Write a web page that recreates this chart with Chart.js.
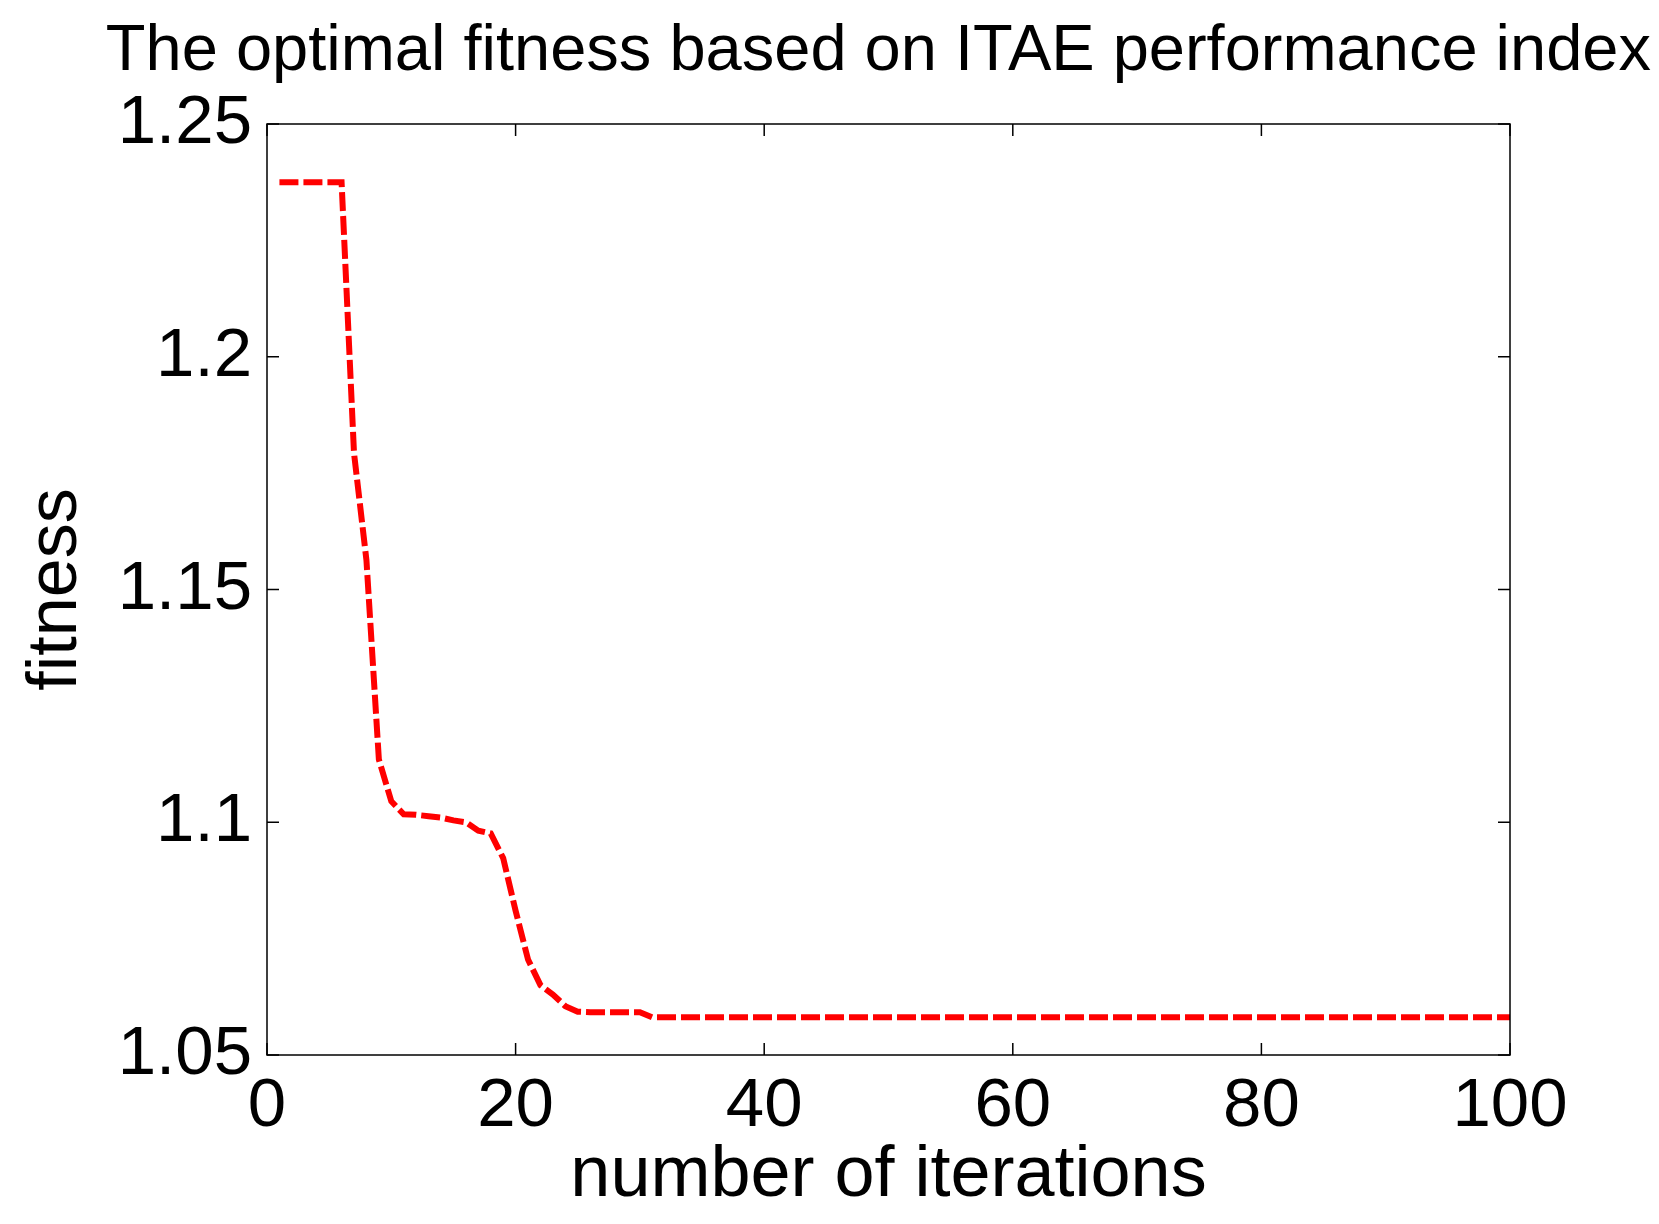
<!DOCTYPE html>
<html>
<head>
<meta charset="utf-8">
<title>The optimal fitness based on ITAE performance index</title>
<script src="https://cdn.jsdelivr.net/npm/chart.js@4"></script>
<style>
  html, body { margin: 0; padding: 0; background: #fff; }
  #chart { display: block; }
</style>
</head>
<body>
<canvas id="chart" width="1659" height="1224"></canvas>
<script>
// data
const iterations = [
  1, 2, 3, 4, 5, 6, 7, 8, 9, 10,
  11, 12, 13, 14, 15, 16, 17, 18, 19, 20,
  21, 22, 23, 24, 25, 26, 27, 28, 29, 30,
  31, 32, 33, 34, 35, 36, 37, 38, 39, 40,
  41, 42, 43, 44, 45, 46, 47, 48, 49, 50,
  51, 52, 53, 54, 55, 56, 57, 58, 59, 60,
  61, 62, 63, 64, 65, 66, 67, 68, 69, 70,
  71, 72, 73, 74, 75, 76, 77, 78, 79, 80,
  81, 82, 83, 84, 85, 86, 87, 88, 89, 90,
  91, 92, 93, 94, 95, 96, 97, 98, 99, 100
];
const fitness = [
  1.2375, 1.2375, 1.2375, 1.2375, 1.2375, 1.2375, 1.1793, 1.1563, 1.1135, 1.1045,
  1.1017, 1.1016, 1.1013, 1.1010, 1.1004, 1.1000, 1.0982, 1.0976, 1.0923, 1.0810,
  1.0705, 1.0650, 1.0630, 1.0605, 1.0593, 1.0592, 1.0592, 1.0592, 1.0592, 1.0592,
  1.0581, 1.0581, 1.0581, 1.0581, 1.0581, 1.0581, 1.0581, 1.0581, 1.0581, 1.0581,
  1.0581, 1.0581, 1.0581, 1.0581, 1.0581, 1.0581, 1.0581, 1.0581, 1.0581, 1.0581,
  1.0581, 1.0581, 1.0581, 1.0581, 1.0581, 1.0581, 1.0581, 1.0581, 1.0581, 1.0581,
  1.0581, 1.0581, 1.0581, 1.0581, 1.0581, 1.0581, 1.0581, 1.0581, 1.0581, 1.0581,
  1.0581, 1.0581, 1.0581, 1.0581, 1.0581, 1.0581, 1.0581, 1.0581, 1.0581, 1.0581,
  1.0581, 1.0581, 1.0581, 1.0581, 1.0581, 1.0581, 1.0581, 1.0581, 1.0581, 1.0581,
  1.0581, 1.0581, 1.0581, 1.0581, 1.0581, 1.0581, 1.0581, 1.0581, 1.0581, 1.0581
];
const xTicks = [0, 20, 40, 60, 80, 100];
const xTickLabels = ['0', '20', '40', '60', '80', '100'];
const yTicks = [1.05, 1.1, 1.15, 1.2, 1.25];
const yTickLabels = ['1.05', '1.1', '1.15', '1.2', '1.25'];

const FONT = '"Liberation Sans", Arial, Helvetica, sans-serif';

// matlab style box with inward ticks on all four sides
const boxPlugin = {
  id: 'matlabBox',
  afterDraw(chart) {
    const ctx = chart.ctx;
    const a = chart.chartArea;
    const xs = chart.scales.x, ys = chart.scales.y;
    const len = 12;
    ctx.save();
    ctx.strokeStyle = '#000';
    ctx.lineWidth = 1.5;
    ctx.strokeRect(a.left, a.top, a.right - a.left, a.bottom - a.top);
    ctx.beginPath();
    xTicks.forEach(v => {
      const px = xs.getPixelForValue(v);
      ctx.moveTo(px, a.bottom); ctx.lineTo(px, a.bottom - len);
      ctx.moveTo(px, a.top); ctx.lineTo(px, a.top + len);
    });
    yTicks.forEach(v => {
      const py = ys.getPixelForValue(v);
      ctx.moveTo(a.left, py); ctx.lineTo(a.left + len, py);
      ctx.moveTo(a.right, py); ctx.lineTo(a.right - len, py);
    });
    ctx.stroke();
    ctx.restore();
  }
};

const points = iterations.map((it, i) => ({ x: it, y: fitness[i] }));

new Chart(document.getElementById('chart'), {
  type: 'line',
  data: {
    datasets: [{
      data: points,
      borderColor: '#ff0000',
      borderWidth: 6,
      borderDash: [19, 5],
      borderCapStyle: 'butt',
      pointRadius: 0,
      tension: 0,
      fill: false
    }]
  },
  options: {
    responsive: false,
    animation: false,
    devicePixelRatio: 1,
    layout: { padding: { left: 0, right: 8, top: 0, bottom: 0 } },
    plugins: {
      legend: { display: false },
      tooltip: { enabled: false },
      title: {
        display: true,
        text: 'The optimal fitness based on ITAE performance index',
        align: 'end',
        color: '#000',
        font: { family: FONT, size: 65, weight: 'normal' },
        padding: { top: 13, bottom: 33 }
      }
    },
    scales: {
      x: {
        type: 'linear',
        min: 0,
        max: 100,
        grid: { display: false, drawTicks: false },
        border: { display: false },
        afterBuildTicks: s => { s.ticks = xTicks.map(v => ({ value: v })); },
        afterFit: s => { s.height = 169; },
        ticks: {
          color: '#000',
          padding: 11,
          font: { family: FONT, size: 69 },
          maxRotation: 0,
          callback: (v, i) => xTickLabels[i]
        },
        title: {
          display: true,
          text: 'number of iterations',
          color: '#000',
          font: { family: FONT, size: 72 },
          padding: { top: 0, bottom: 5 }
        }
      },
      y: {
        type: 'linear',
        min: 1.05,
        max: 1.25,
        grid: { display: false, drawTicks: false },
        border: { display: false },
        afterBuildTicks: s => { s.ticks = yTicks.map(v => ({ value: v })); },
        afterFit: s => { s.width = 267; },
        ticks: {
          color: '#000',
          padding: 15,
          font: { family: FONT, size: 69 },
          callback: (v, i) => yTickLabels[i]
        },
        title: {
          display: true,
          text: 'fitness',
          color: '#000',
          font: { family: FONT, size: 70 },
          padding: { top: 15, bottom: 0 }
        }
      },
      // empty right-hand axis that only reserves the margin right of the box
      yRight: {
        type: 'linear',
        position: 'right',
        min: 1.05,
        max: 1.25,
        grid: { display: false, drawTicks: false },
        border: { display: false },
        ticks: { display: false },
        afterFit: s => { s.width = 141; }
      }
    }
  },
  plugins: [boxPlugin]
});
</script>
</body>
</html>
